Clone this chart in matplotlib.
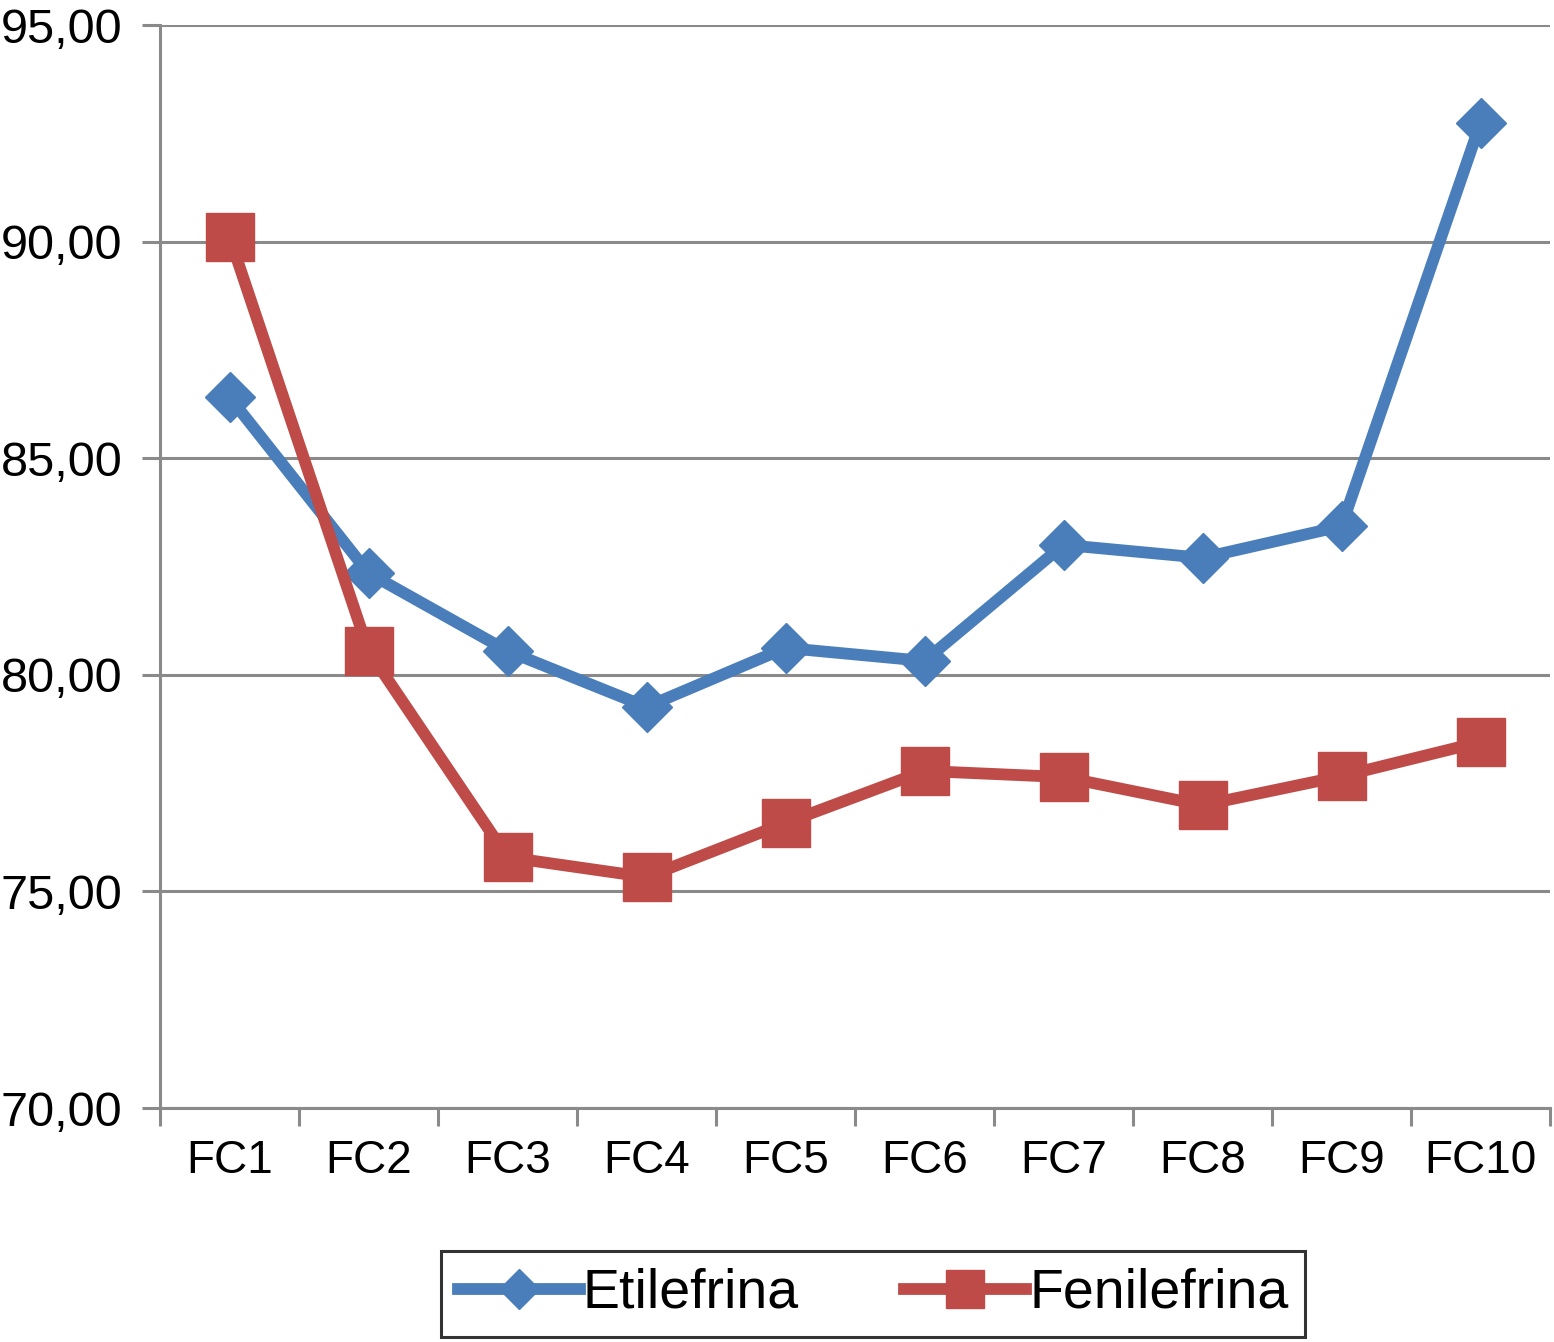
import numpy as np
import matplotlib
matplotlib.use("Agg")
import matplotlib.pyplot as plt

# data
categories = ['FC1', 'FC2', 'FC3', 'FC4', 'FC5', 'FC6', 'FC7', 'FC8', 'FC9', 'FC10']
etilefrina = [86.41, 82.35, 80.55, 79.26, 80.62, 80.32, 83.00, 82.70, 83.43, 92.74]
fenilefrina = [90.11, 80.55, 75.79, 75.33, 76.58, 77.78, 77.64, 76.99, 77.66, 78.45]
yticks = [70, 75, 80, 85, 90, 95]

plt.rcParams['font.family'] = ['Liberation Sans', 'DejaVu Sans']

grey = '#8a8a8a'
blue = '#4a7ebb'
red = '#be4b48'

fig = plt.figure(figsize=(15.54, 13.42), dpi=100)
ax = fig.add_axes([160 / 1554, 1 - 1108 / 1342, 1390 / 1554, 1083 / 1342])

x = np.arange(len(categories))
ax.plot(x, etilefrina, color=blue, lw=8.5, marker='D', markersize=25,
        markeredgecolor=blue, label='Etilefrina', zorder=3)
ax.plot(x, fenilefrina, color=red, lw=8.5, marker='s', markersize=34,
        markeredgecolor=red, label='Fenilefrina', zorder=3)

ax.set_xlim(-0.5, len(categories) - 0.5)
ax.set_ylim(70, 95)
ax.set_yticks(yticks)
ax.set_yticklabels(['%d,00' % v for v in yticks])
ax.set_xticks(x)
ax.set_xticklabels(categories)
ax.set_xticks(np.arange(-0.5, len(categories)), minor=True)

ax.grid(axis='y', color=grey, lw=2.2)
ax.set_axisbelow(True)
for s in ['top', 'right']:
    ax.spines[s].set_visible(False)
for s in ['left', 'bottom']:
    ax.spines[s].set_color(grey)
    ax.spines[s].set_linewidth(2.2)

ax.tick_params(axis='y', length=13, width=2.2, color=grey, labelsize=35, pad=14)
ax.tick_params(axis='x', which='major', length=0, labelsize=33, pad=22)
ax.tick_params(axis='x', which='minor', length=13, width=2.2, color=grey)

leg = fig.legend(loc='center', bbox_to_anchor=(873 / 1554, 1 - 1294 / 1342), ncol=2,
                 fontsize=40, frameon=True, fancybox=False, handlelength=2.2,
                 handletextpad=0.05, columnspacing=1.9, borderpad=0.3,
                 markerscale=0.8)
leg.get_frame().set_edgecolor('black')
leg.get_frame().set_linewidth(2.2)

fig.savefig('out.png', dpi=100)
